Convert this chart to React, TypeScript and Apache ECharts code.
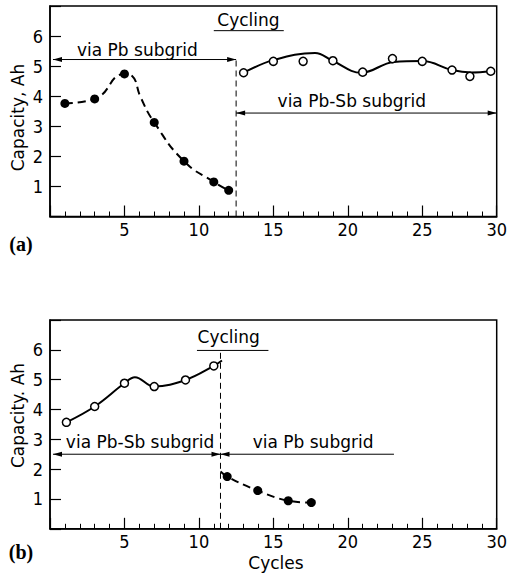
import React, { useEffect, useRef } from "react";
import * as echarts from "echarts";

// ---- Data ----
const xTicks = [5, 10, 15, 20, 25, 30];
const yTicks = [1, 2, 3, 4, 5, 6];

// (a) cycling via Pb subgrid (filled dots, dashed curve)
const aPbCycles = [1, 3, 5, 7, 9, 11, 12];
const aPbCapacity = [3.76, 3.91, 4.74, 3.13, 1.84, 1.15, 0.87];
const aPbCurveCycles = [1, 3, 5, 5.5, 6.1, 7, 9, 11, 12];
const aPbCurveCapacity = [3.76, 3.91, 4.74, 4.68, 3.95, 3.13, 1.84, 1.15, 0.87];

// (a) cycling via Pb-Sb subgrid (open circles, solid curve)
const aPbSbCycles = [13, 15, 17, 19, 21, 23, 25, 27, 28.2, 29.6];
const aPbSbCapacity = [4.78, 5.16, 5.16, 5.18, 4.8, 5.25, 5.16, 4.87, 4.66, 4.83];
const aPbSbCurveCycles = [13, 15, 17.8, 19, 20.9, 23.1, 25, 27, 28.3, 29.6];
const aPbSbCurveCapacity = [4.78, 5.2, 5.44, 5.17, 4.78, 5.14, 5.17, 4.87, 4.79, 4.83];

// (b) cycling via Pb-Sb subgrid (open circles, solid curve)
const bPbSbCycles = [1.1, 3, 5, 7, 9.1, 11];
const bPbSbCapacity = [3.57, 4.1, 4.88, 4.77, 4.99, 5.46];
const bPbSbCurveCycles = [1.1, 3, 5, 5.7, 7, 9.1, 11, 11.55];
const bPbSbCurveCapacity = [3.57, 4.1, 4.88, 5.08, 4.77, 4.99, 5.46, 5.64];

// (b) cycling via Pb subgrid (filled dots, dashed curve)
const bPbCycles = [11.9, 13.95, 16, 17.55];
const bPbCapacity = [1.75, 1.28, 0.94, 0.88];
const bPbCurveCycles = [11.45, 11.9, 13.95, 16, 17.55];
const bPbCurveCapacity = [1.92, 1.75, 1.28, 0.94, 0.88];

// annotation positions (data units)
const aSplit = 12.5;
const bSplit = 11.45;

const zip = (xs: number[], ys: number[]) => xs.map((x, i) => [x, ys[i]]);

const TICK_FONT = "'Liberation Sans Narrow', 'DejaVu Sans Condensed', 'Liberation Sans', sans-serif";
const TEXT_FONT = "'DejaVu Sans', sans-serif";

export default function App() {
  const ref = useRef<HTMLDivElement>(null);
  useEffect(() => {
    if (!ref.current) return;
    const chart = echarts.init(ref.current, null, { renderer: "svg" });

    const grids = [
      { left: 50, top: 6, width: 449, height: 210.5 },
      { left: 50, top: 320, width: 449, height: 208.8 },
    ];
    const mkX = (gi: number) => ({
      type: "value",
      gridIndex: gi,
      min: 0,
      max: 30,
      interval: 5,
      axisLine: { show: true, lineStyle: { color: "#000", width: 1.5 } },
      axisTick: { show: true, inside: true, length: 11, lineStyle: { color: "#000", width: 1.2 } },
      minorTick: { show: true, splitNumber: 5, length: 5, lineStyle: { color: "#000", width: 1 } },
      splitLine: { show: false },
      axisLabel: {
        margin: 4,
        color: "#000",
        fontSize: 18,
        fontFamily: TICK_FONT,
        formatter: (v: number) => (xTicks.includes(v) ? String(v) : ""),
      },
    });
    const mkY = (gi: number) => ({
      type: "value",
      gridIndex: gi,
      min: 0,
      max: 7,
      interval: 1,
      axisLine: { show: true, lineStyle: { color: "#000", width: 1.5 } },
      axisTick: { show: true, inside: true, length: 11, lineStyle: { color: "#000", width: 1.2 } },
      splitLine: { show: false },
      axisLabel: {
        margin: 7,
        color: "#000",
        fontSize: 18,
        fontFamily: TICK_FONT,
        formatter: (v: number) => (yTicks.includes(v) ? String(v) : ""),
      },
    });

    const curve = (gi: number, xs: number[], ys: number[], dashed: boolean, smooth = 0.4) => ({
      type: "line",
      xAxisIndex: gi,
      yAxisIndex: gi,
      data: zip(xs, ys),
      smooth,
      showSymbol: false,
      symbol: "none",
      lineStyle: { color: "#000", width: 2, type: dashed ? [8, 5] : "solid" },
      z: 2,
    });
    const marks = (gi: number, xs: number[], ys: number[], filled: boolean) => ({
      type: "scatter",
      xAxisIndex: gi,
      yAxisIndex: gi,
      data: zip(xs, ys),
      symbol: "circle",
      symbolSize: filled ? 9 : 8,
      itemStyle: filled
        ? { color: "#000", borderColor: "#000", borderWidth: 0, opacity: 1 }
        : { color: "#fff", borderColor: "#000", borderWidth: 1.5, opacity: 1 },
      z: 3,
    });

    chart.setOption({
      animation: false,
      backgroundColor: "#fff",
      grid: grids.map((g) => ({ ...g, show: true, borderColor: "#000", borderWidth: 1.5, containLabel: false })),
      xAxis: [mkX(0), mkX(1)],
      yAxis: [mkY(0), mkY(1)],
      series: [
        curve(0, aPbCurveCycles, aPbCurveCapacity, true, 0.5),
        marks(0, aPbCycles, aPbCapacity, true),
        curve(0, aPbSbCurveCycles, aPbSbCurveCapacity, false),
        marks(0, aPbSbCycles, aPbSbCapacity, false),
        curve(1, bPbSbCurveCycles, bPbSbCurveCapacity, false),
        marks(1, bPbSbCycles, bPbSbCapacity, false),
        curve(1, bPbCurveCycles, bPbCurveCapacity, true),
        marks(1, bPbCycles, bPbCapacity, true),
      ],
    });

    const P = (gi: number, x: number, y: number) =>
      chart.convertToPixel({ xAxisIndex: gi, yAxisIndex: gi }, [x, y]) as number[];

    const g: any[] = [];
    const line = (gi: number, x1: number, y1: number, x2: number, y2: number, dashed = false, w = 1) => {
      const a = P(gi, x1, y1);
      const b = P(gi, x2, y2);
      g.push({
        type: "line",
        shape: { x1: a[0], y1: a[1], x2: b[0], y2: b[1] },
        style: { stroke: "#000", lineWidth: w, lineDash: dashed ? [6, 4] : null },
        z: 10,
      });
    };
    const arrowHead = (gi: number, x: number, y: number, dir: number) => {
      const t = P(gi, x, y);
      const L = 9;
      const W = 2.5;
      g.push({
        type: "polygon",
        shape: { points: [[t[0], t[1]], [t[0] - dir * L, t[1] - W], [t[0] - dir * L, t[1] + W]] },
        style: { fill: "#000" },
        z: 10,
      });
    };
    const text = (gi: number, x: number, y: number, s: string, size = 17) => {
      const p = P(gi, x, y);
      g.push({
        type: "text",
        x: p[0],
        y: p[1] - 6,
        style: { text: s, fill: "#000", fontSize: size, fontFamily: TEXT_FONT, align: "center", verticalAlign: "middle" },
        z: 10,
      });
    };

    // ---- (a) ----
    line(0, aSplit, 0, aSplit, 5.3, true);
    line(0, 0.2, 5.22, aSplit, 5.22);
    arrowHead(0, 0.2, 5.22, -1);
    arrowHead(0, aSplit, 5.22, 1);
    text(0, 5.87, 5.35, "via Pb subgrid");
    line(0, aSplit, 3.44, 30, 3.44);
    arrowHead(0, aSplit, 3.44, -1);
    arrowHead(0, 30, 3.44, 1);
    text(0, 20.27, 3.64, "via Pb-Sb subgrid");
    text(0, 13.33, 6.33, "Cycling");
    line(0, 11.0, 6.18, 15.7, 6.18);

    // ---- (b) ----
    line(1, bSplit, 0, bSplit, 5.9, true);
    line(1, 0.2, 2.5, bSplit, 2.5);
    arrowHead(1, 0.2, 2.5, -1);
    arrowHead(1, bSplit, 2.5, 1);
    text(1, 6.05, 2.71, "via Pb-Sb subgrid");
    line(1, bSplit, 2.5, 23.1, 2.5);
    arrowHead(1, bSplit, 2.5, -1);
    text(1, 17.67, 2.71, "via Pb subgrid");
    text(1, 12.0, 6.22, "Cycling");
    line(1, 9.87, 5.98, 14.67, 5.98);

    // axis titles and panel labels
    const fixedText = (x: number, y: number, s: string, opts: any = {}) =>
      g.push({
        type: "text",
        x,
        y,
        rotation: opts.rotation || 0,
        style: {
          text: s,
          fill: "#000",
          fontSize: opts.size || 17,
          fontFamily: opts.family || TEXT_FONT,
          fontWeight: opts.weight || "normal",
          align: "center",
          verticalAlign: "middle",
        },
        z: 10,
      });
    fixedText(18, 117.5, "Capacity, Ah", { rotation: Math.PI / 2 });
    fixedText(18, 415.5, "Capacity. Ah", { rotation: Math.PI / 2 });
    fixedText(21, 244, "(a)", { family: "'Liberation Serif', serif", weight: "bold", size: 20 });
    fixedText(21, 552, "(b)", { family: "'Liberation Serif', serif", weight: "bold", size: 20 });
    fixedText(276, 563, "Cycles");

    chart.setOption({ graphic: g });

    return () => chart.dispose();
  }, []);
  return <div ref={ref} style={{ position: "absolute", left: 0, top: 0, width: 510, height: 576 }} />;
}
